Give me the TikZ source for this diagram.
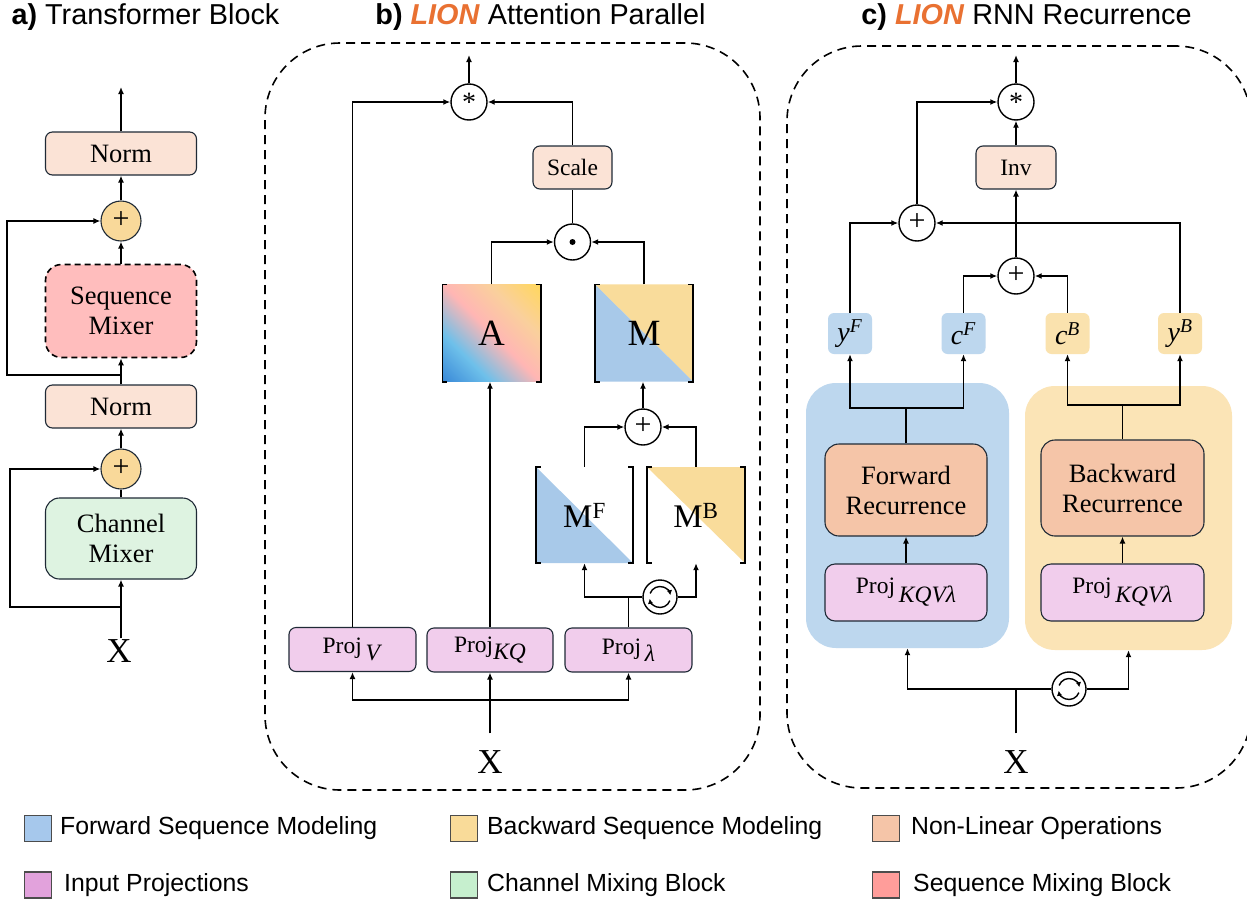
\documentclass[tikz,border=0pt]{standalone}
\usepackage{fontspec}
\setmainfont{Liberation Serif}
\newfontfamily\sansf{Liberation Sans}
\usetikzlibrary{arrows.meta,calc}
\definecolor{peachL}{HTML}{FBE3D6}
\definecolor{plusY}{HTML}{F9D99A}
\definecolor{seqc}{HTML}{FFBDBD}
\definecolor{greenL}{HTML}{DEF3E1}
\definecolor{projc}{HTML}{F1CDEC}
\definecolor{salmon}{HTML}{F5C5A8}
\definecolor{regblue}{HTML}{BDD7EE}
\definecolor{regyel}{HTML}{FBE4B6}
\definecolor{smyel}{HTML}{FAE2AE}
\definecolor{mblue}{HTML}{A8C9E9}
\definecolor{myel}{HTML}{F9DC9B}
\definecolor{lionor}{HTML}{E97132}
\definecolor{boxline}{HTML}{1F2A36}
\definecolor{lgblue}{HTML}{A6C8EC}
\definecolor{lgyel}{HTML}{F9DB99}
\definecolor{lgsal}{HTML}{F5C5A8}
\definecolor{lgpink}{HTML}{E2A2DC}
\definecolor{lggreen}{HTML}{C6EFCE}
\definecolor{lgred}{HTML}{FF9D9A}
\definecolor{Ab1}{HTML}{3A8AD8}
\definecolor{Ab2}{HTML}{6EC0EA}
\definecolor{Apk}{HTML}{FFB6B4}
\definecolor{Apch}{HTML}{FAD09C}
\definecolor{Ayl}{HTML}{FFD75E}
\pgfdeclarehorizontalshading{Ashade}{100bp}{color(0bp)=(Ab1); color(15bp)=(Ab1); color(32bp)=(Ab2); color(50bp)=(Apk); color(67bp)=(Apch); color(85bp)=(Ayl); color(100bp)=(Ayl)}
\newcommand{\mbrk}[1]{%
  \draw[line width=1.6pt] ([xshift=5pt]#1.north west) -- (#1.north west) -- (#1.south west) -- ([xshift=5pt]#1.south west);
  \draw[line width=1.6pt] ([xshift=-5pt]#1.north east) -- (#1.north east) -- (#1.south east) -- ([xshift=-5pt]#1.south east);}
\newcommand{\swapicon}[1]{%
  \draw[line width=1.4pt, -{Latex[length=5pt,width=5.5pt]}] ($(#1.center)+(340:10.5pt)$) arc[start angle=340, end angle=190, radius=10.5pt];
  \draw[line width=1.4pt, -{Latex[length=5pt,width=5.5pt]}] ($(#1.center)+(160:10.5pt)$) arc[start angle=160, end angle=10, radius=10.5pt];}
\newcommand{\ital}[1]{\textit{#1}}
\newcommand{\astr}{\raisebox{-7pt}{\fontsize{28}{28}\selectfont *}}
\newcommand{\plussign}{\fontsize{30}{30}\selectfont\raisebox{1pt}{+}}
\tikzset{
  conn/.style={line width=1.5pt, draw=black},
  arr/.style={conn, -{Latex[length=7pt,width=6pt]}},
  box/.style={draw=boxline, line width=1.1pt, rounded corners=7pt, align=center, inner sep=0pt},
  btxt/.style={font=\fontsize{26.5}{30}\selectfont},
  stxt/.style={font=\fontsize{23.5}{26}\selectfont},
  opc/.style={circle, draw=black, line width=1.4pt, fill=white, minimum size=36pt, inner sep=0pt},
  plusa/.style={circle, draw=boxline, line width=1.1pt, fill=plusY, minimum size=40pt, inner sep=0pt},
  swapc/.style={circle, draw=black, line width=1.4pt, fill=white, minimum size=34pt, inner sep=0pt},
  frame/.style={draw=black, dash pattern=on 9pt off 6pt, line width=1.6pt, rounded corners=75pt},
  projbox/.style={box, fill=projc, minimum height=44pt, stxt},
  pkbox/.style={box, fill=peachL, minimum height=43pt, stxt},
  matbox/.style={minimum width=98pt, minimum height=97pt, inner sep=0pt},
  lowtri/.style={path picture={\fill[#1] (path picture bounding box.north west) -- (path picture bounding box.south west) -- (path picture bounding box.south east) -- cycle;}},
  uptri/.style={path picture={\fill[#1] (path picture bounding box.north west) -- (path picture bounding box.north east) -- (path picture bounding box.south east) -- cycle;}},
  xlab/.style={font=\fontsize{35}{35}\selectfont, inner sep=1pt},
  smallv/.style={rounded corners=6pt, minimum width=44pt, minimum height=41pt, inner sep=0pt, font=\fontsize{28}{28}\selectfont},
  region/.style={rounded corners=30pt},
  title/.style={font=\sansf\fontsize{28.8}{30}\selectfont, inner sep=0pt},
  lsq/.style={draw=black!70, line width=1.4pt, minimum width=27pt, minimum height=26pt, inner sep=0pt},
  ltxt/.style={font=\sansf\fontsize{24.8}{26}\selectfont, anchor=west, inner sep=0pt}
}
\begin{document}
\begin{tikzpicture}[x=1pt,y=-1pt]
\useasboundingbox (0,0) rectangle (1247,902);
\fill[white] (0,0) rectangle (1247,902);

% ---------------- titles
\node[title] (titA) at (145.5,17) {\textbf{a)} Transformer Block};
\node[title] (titB) at (540.5,17) {\textbf{b)} \textcolor{lionor}{\textbf{\textit{LION}}} Attention Parallel};
\node[title] (titC) at (1026.5,17) {\textbf{c)} \textcolor{lionor}{\textbf{\textit{LION}}} RNN Recurrence};

% ---------------- panel a
\node[box, fill=peachL, minimum width=151pt, minimum height=43pt, btxt] (normT) at (121,153.5) {Norm};
\node[plusa] (plusA1) at (121,221) {\plussign};
\node[box, fill=seqc, draw=black, dash pattern=on 6pt off 4pt, line width=1.6pt, rounded corners=16pt, minimum width=151pt, minimum height=93pt, btxt] (seqmix) at (121,311) {Sequence\\Mixer};
\node[box, fill=peachL, minimum width=151pt, minimum height=43pt, btxt] (normB) at (121,406.5) {Norm};
\node[plusa] (plusA2) at (121,469) {\plussign};
\node[box, fill=greenL, rounded corners=14pt, minimum width=151pt, minimum height=81pt, btxt] (chmix) at (121,538.5) {Channel\\Mixer};
\node[xlab] (Xa) at (119,651) {X};
\coordinate (outA) at (121,87);
\coordinate (ja1) at (121,375);
\coordinate (ja2) at (121,607);

\draw[arr] (normT.north) -- (outA);
\draw[arr] (plusA1.north) -- (normT.south);
\draw[arr] (seqmix.north) -- (plusA1.south);
\draw[arr] (normB.north) -- (seqmix.south);
\draw[arr] (ja1) -- ++(-114,0) |- (plusA1.west);
\draw[arr] (plusA2.north) -- (normB.south);
\draw[conn] (chmix.north) -- (plusA2.south);
\draw[arr] (ja2) -- ++(-111,0) |- (plusA2.west);
\draw[arr] (Xa.north -| chmix.south) -- (chmix.south);

% ---------------- panel b
\node[frame, minimum width=495pt, minimum height=747pt] (frameB) at (512.5,416.5) {};
\node[opc] (starB) at (469,102) {\astr};
\coordinate (outB) at (469,55);
\node[pkbox, minimum width=79pt] (scale) at (572.5,167.5) {Scale};
\node[opc] (dotc) at (572.5,242) {};
\fill (dotc.center) circle (3pt);
\node[matbox, shading=Ashade, shading angle=45, font=\fontsize{37}{37}\selectfont] (Amat) at (491.5,333) {A};
\node[matbox] (Mmat) at (644,333) {};
\fill[myel] (Mmat.north west) -- (Mmat.north east) -- (Mmat.south east) -- cycle;
\fill[mblue] (Mmat.north west) -- (Mmat.south west) -- (Mmat.south east) -- cycle;
\node[font=\fontsize{37}{37}\selectfont] (Mtxt) at (Mmat.center) {M};
\mbrk{Amat}
\mbrk{Mmat}
\node[opc] (plusB) at (643,427) {\plussign};
\node[matbox, minimum width=97pt, minimum height=96pt, lowtri=mblue, font=\fontsize{33}{33}\selectfont] (MF) at (584.5,515) {M\textsuperscript{F}};
\node[matbox, minimum width=98pt, minimum height=96pt, uptri=myel, font=\fontsize{33}{33}\selectfont] (MB) at (696,515) {M\textsuperscript{B}};
\mbrk{MF}
\mbrk{MB}
\node[swapc] (swapB) at (660,597) {};
\swapicon{swapB}
\node[projbox, minimum width=127pt] (projV) at (352.5,649.5) {Proj\,\raisebox{-7pt}{\ital{V}}};
\node[projbox, minimum width=126pt] (projKQ) at (490,650) {Proj\raisebox{-7pt}{\ital{KQ}}};
\node[projbox, minimum width=127pt] (projL) at (628.5,650) {Proj\,\raisebox{-7pt}{\ital{λ}}};
\node[xlab] (Xb) at (490,762) {X};
\coordinate (jb) at (628.5,597);
\coordinate (hb) at (490,700);

\draw[arr] (starB.north) -- (outB);
\draw[arr] (projV.north) |- (starB.west);
\draw[arr] (scale.north) |- (starB.east);
\draw[conn] (dotc.north) -- (scale.south);
\draw[arr] (Amat.north) |- (dotc.west);
\draw[arr] (Mmat.north) |- (dotc.east);
\draw[arr] (projKQ.north) -- (projKQ.north |- Amat.south);
\draw[arr] (plusB.north) -- (plusB.north |- Mmat.south);
\draw[arr] (MF.north) |- (plusB.west);
\draw[arr] (MB.north) |- (plusB.east);
\draw[conn] (projL.north) -- (jb);
\draw[arr] (jb) -| (MF.south);
\draw[conn] (jb) -- (swapB.west);
\draw[arr] (swapB.east) -| (MB.south);
\draw[arr] ([yshift=16pt]Xb.north) -- (projKQ.south);
\draw[arr] (hb) -| (projV.south);
\draw[arr] (hb) -| (projL.south);

% ---------------- panel c
\node[frame, minimum width=464pt, minimum height=742pt] (frameC) at (1019,417) {};
\node[opc] (starC) at (1016,102) {\astr};
\coordinate (outC) at (1016,55);
\node[pkbox, minimum width=80pt] (inv) at (1016,167.5) {Inv};
\node[opc] (plusC1) at (917,223) {\plussign};
\node[opc] (plusC2) at (1016,276) {\plussign};
\node[smallv, fill=regblue] (yF) at (850,333.5) {\ital{y}\textsuperscript{\ital{F}}};
\node[smallv, fill=regblue] (cF) at (963.5,333.5) {\ital{c}\textsuperscript{\ital{F}}};
\node[smallv, fill=smyel] (cB) at (1067.5,333.5) {\ital{c}\textsuperscript{\ital{B}}};
\node[smallv, fill=smyel] (yB) at (1180,333.5) {\ital{y}\textsuperscript{\ital{B}}};
\node[region, fill=regblue, minimum width=203pt, minimum height=265pt] (blueReg) at (907.5,515.5) {};
\node[region, fill=regyel, minimum width=207pt, minimum height=264pt] (yelReg) at (1128.5,518) {};
\node[box, fill=salmon, rounded corners=14pt, minimum width=162pt, minimum height=92pt, btxt] (fwdRec) at (906,490) {Forward\\Recurrence};
\node[box, fill=salmon, rounded corners=14pt, minimum width=163pt, minimum height=96pt, btxt] (bwdRec) at (1122.5,488) {Backward\\Recurrence};
\node[box, fill=projc, rounded corners=10pt, minimum width=162pt, minimum height=57pt, stxt] (projF) at (906,592.5) {Proj\,\raisebox{-9pt}{\ital{KQVλ}}};
\node[box, fill=projc, rounded corners=10pt, minimum width=163pt, minimum height=57pt, stxt] (projBw) at (1122.5,592.5) {Proj\,\raisebox{-9pt}{\ital{KQVλ}}};
\node[swapc] (swapC) at (1069,689) {};
\swapicon{swapC}
\node[xlab] (Xc) at (1016,762) {X};
\coordinate (hc) at (1016,689);
\coordinate (fj) at (906,408);
\coordinate (bj) at (1122.5,405);

\draw[arr] (starC.north) -- (outC);
\draw[arr] (inv.north) -- (starC.south);
\draw[arr] (plusC1.north) |- (starC.west);
\draw[arr] (plusC2.north) -- (inv.south);
\draw[arr] (yF.north) |- (plusC1.west);
\draw[arr] (yB.north) |- (plusC1.east);
\draw[arr] (cF.north) |- (plusC2.west);
\draw[arr] (cB.north) |- (plusC2.east);
\draw[conn] (fwdRec.north) -- (fj);
\draw[arr] (fj) -| (yF.south);
\draw[arr] (fj) -| (cF.south);
\draw[conn] (bwdRec.north) -- (bj);
\draw[arr] (bj) -| (cB.south);
\draw[arr] (bj) -| (yB.south);
\draw[arr] (projF.north) -- (fwdRec.south);
\draw[arr] (projBw.north) -- (bwdRec.south);
\draw[conn] ([yshift=16pt]Xc.north) -- (hc);
\draw[arr] (hc) -| (blueReg.south);
\draw[conn] (hc) -- (swapC.west);
\draw[arr] (swapC.east) -| (yelReg.south);

% ---------------- legend
\node[lsq, fill=lgblue] (lg1) at (38,828.5) {};
\node[ltxt] (lt1) at (60,828) {Forward Sequence Modeling};
\node[lsq, fill=lgyel] (lg2) at (464,828.5) {};
\node[ltxt] (lt2) at (487,828) {Backward Sequence Modeling};
\node[lsq, fill=lgsal] (lg3) at (886,828.5) {};
\node[ltxt] (lt3) at (911,828) {Non-Linear Operations};
\node[lsq, fill=lgpink] (lg4) at (38,885) {};
\node[ltxt] (lt4) at (64,885) {Input Projections};
\node[lsq, fill=lggreen] (lg5) at (464,885) {};
\node[ltxt] (lt5) at (487,885) {Channel Mixing Block};
\node[lsq, fill=lgred] (lg6) at (886,885) {};
\node[ltxt] (lt6) at (913,885) {Sequence Mixing Block};
\end{tikzpicture}
\end{document}
